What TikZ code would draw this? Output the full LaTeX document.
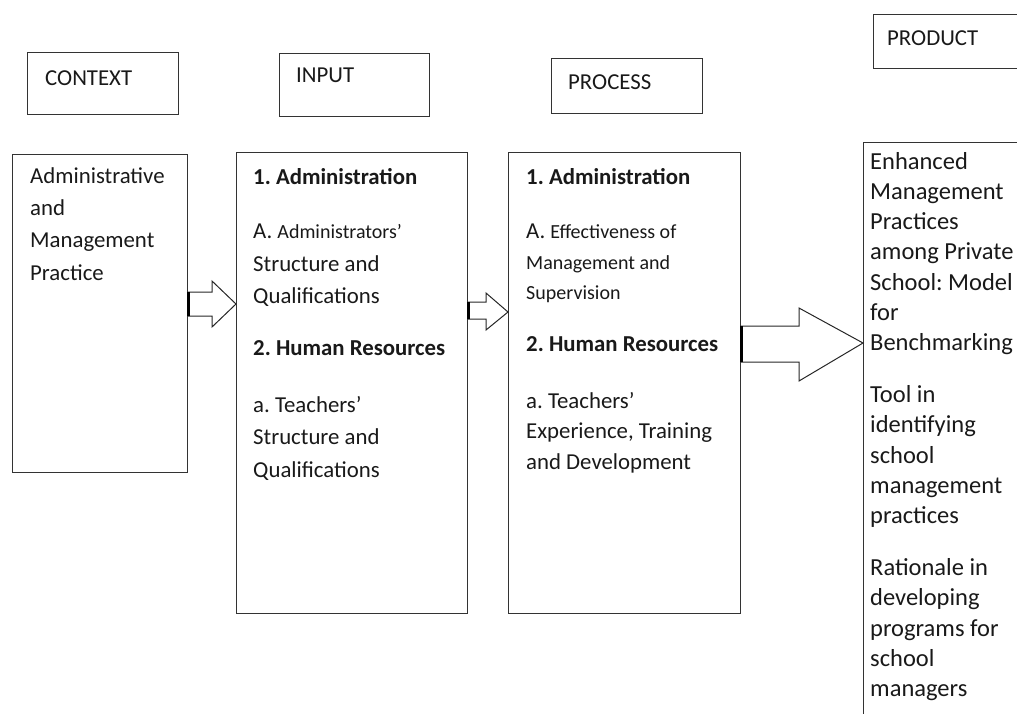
\documentclass[tikz,border=0pt]{standalone}
\usepackage{fontspec}
\setmainfont{Carlito}
\frenchspacing
\newcommand{\smallfnt}{\fontsize{20}{30}\selectfont}

\begin{document}
\begin{tikzpicture}[x=1pt,y=-1pt,
    frame/.style={draw=black!80,line width=1.2pt,inner sep=0pt,anchor=north west},
    txt/.style={anchor=north west,inner sep=0pt,align=left,text=black!90,
      font=\fontsize{22.8}{32.4}\selectfont},
    blockarrow/.style={draw=black!85,line width=1pt,line join=miter},
    backedge/.style={draw=black,line width=2.6pt}]
  \useasboundingbox (0,0) rectangle (1017,713);
  % headings
  \node[frame,minimum width=151,minimum height=62] (ctxhead) at (27,52) {};
  \node[frame,minimum width=150,minimum height=63] (inhead) at (279,53) {};
  \node[frame,minimum width=151,minimum height=55] (prochead) at (551,58) {};
  \node[frame,minimum width=170,minimum height=54] (prodhead) at (873,14) {};
  \node[txt] (ctxlabel) at (45,70) {CONTEXT};
  \node[txt] (inlabel) at (296,68) {INPUT};
  \node[txt] (proclabel) at (568,74) {PROCESS};
  \node[txt] (prodlabel) at (887,30) {PRODUCT};
  % main boxes
  \node[frame,minimum width=175,minimum height=318] (ctxbox) at (12,154) {};
  \node[frame,minimum width=231,minimum height=461] (inbox) at (236,152) {};
  \node[frame,minimum width=232,minimum height=461] (procbox) at (508,152) {};
  \node[frame,minimum width=180,minimum height=620] (prodbox) at (863,142) {};
  \node[txt] (ctxtext) at (30,167) {Administrative\\ and\\ Management\\ Practice};
  \node[txt] (intext) at (253,168) {\textbf{1. Administration}\\[22pt]
    A. {\smallfnt Administrators'}\\ Structure and\\ Qualifications\\[20pt]
    \textbf{2. Human Resources}\\[24pt]
    a. Teachers'\\ Structure and\\ Qualifications};
  \node[txt] (proctext) at (526,168) {\textbf{1. Administration}\\[22pt]
    A. {\smallfnt Effectiveness of}\\[-2pt] {\smallfnt Management and}\\[-2pt]
    {\smallfnt Supervision}\\[20pt]
    \textbf{2. Human Resources}\\[24pt]
    a. Teachers'\\[-2pt] Experience, Training\\[-2pt] and Development};
  \node[txt,font=\fontsize{24.5}{30.2}\selectfont] (prodtext) at (870,152)
    {Enhanced\\ Management\\ Practices\\
    among Private\\ School: Model\\ for\\ Benchmarking\\[22pt]
    Tool in\\ identifying\\ school\\ management\\ practices\\[22pt]
    Rationale in\\ developing\\ programs for\\ school\\ managers};
  % block arrows
  \draw[blockarrow] (ctxbox.east |- 0,316) -- (ctxbox.east |- 0,292) -- (212,292)
    -- (212,281) -- (inbox.west |- 0,304) -- (212,327) -- (212,316) -- cycle;
  \draw[backedge] (ctxbox.east |- 0,292) -- (ctxbox.east |- 0,316);
  \draw[blockarrow] (inbox.east |- 0,319) -- (inbox.east |- 0,302) -- (486,302)
    -- (486,293) -- (procbox.west |- 0,312) -- (486,330) -- (486,319) -- cycle;
  \draw[backedge] (inbox.east |- 0,302) -- (inbox.east |- 0,319);
  \draw[blockarrow] (procbox.east |- 0,362) -- (procbox.east |- 0,326) -- (799,326)
    -- (799,308) -- (prodbox.west |- 0,343) -- (799,381) -- (799,362) -- cycle;
  \draw[backedge] (procbox.east |- 0,326) -- (procbox.east |- 0,362);
\end{tikzpicture}
\end{document}
